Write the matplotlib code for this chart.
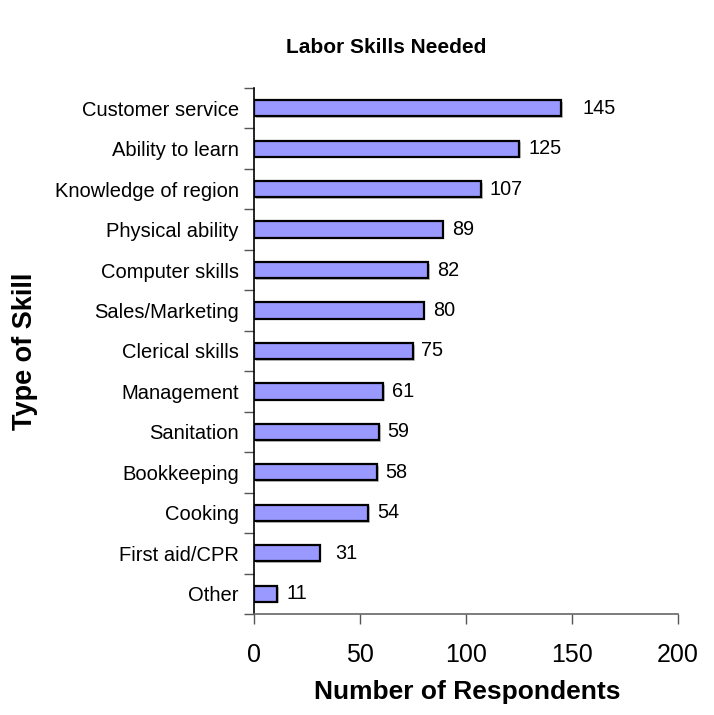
import numpy as np
import matplotlib.pyplot as plt
import matplotlib.patheffects as pe

plt.rcParams['font.family'] = ['Liberation Sans', 'DejaVu Sans']

skills = ['Customer service', 'Ability to learn', 'Knowledge of region',
          'Physical ability', 'Computer skills', 'Sales/Marketing',
          'Clerical skills', 'Management', 'Sanitation', 'Bookkeeping',
          'Cooking', 'First aid/CPR', 'Other']
respondents = [145, 125, 107, 89, 82, 80, 75, 61, 59, 58, 54, 31, 11]
x_ticks = [0, 50, 100, 150, 200]

# extra gap (points) between bar end and its label
label_pad = [15, 6.5, 6.5, 6.5, 6.5, 6.5, 6, 6, 6, 6, 6.5, 11.5, 6.5]

fig = plt.figure(figsize=(7.14, 7.15), dpi=100)
ax = fig.add_axes([0.3557, 0.1413, 0.5940, 0.7357])

n = len(skills)
pos = np.arange(n)[::-1]
bars = ax.barh(pos, respondents, height=0.4, color='#9999FF',
               edgecolor='black', linewidth=1.6, zorder=3)
for b in bars:
    b.set_path_effects([pe.SimplePatchShadow(offset=(1.2, -1.2), shadow_rgbFace='#999999', alpha=0.6),
                        pe.Normal()])

for p, v, pad in zip(pos, respondents, label_pad):
    ax.annotate(str(v), xy=(v, p), xytext=(pad, 0), textcoords='offset points',
                ha='left', va='center', fontsize=14.3)

ax.set_xlim(0, 200)
ax.set_ylim(-0.5, n - 0.5)
ax.set_xticks(x_ticks)
ax.set_xticklabels([str(t) for t in x_ticks], fontsize=18)

# category names sit between the boundary tick marks
ax.set_yticks(np.arange(n + 1) - 0.5)
ax.set_yticklabels([])
ax.set_yticks(pos, minor=True)
ax.set_yticklabels(skills, minor=True, fontsize=14.5)
ax.tick_params(axis='y', which='minor', length=0, pad=10.8)
ax.tick_params(axis='y', which='major', length=7, width=1, color='#555555')
ax.tick_params(axis='x', length=7, width=1, color='#555555', pad=14)

for s in ['top', 'right']:
    ax.spines[s].set_visible(False)
ax.spines['left'].set_linewidth(1.2)
ax.spines['left'].set_color('black')
ax.spines['bottom'].set_color('#666666')
ax.spines['bottom'].set_linewidth(1.2)

fig.text(0.541, 0.934, 'Labor Skills Needed', ha='center', va='center',
         fontsize=15, fontweight='bold')
fig.text(0.654, 0.032, 'Number of Respondents', ha='center', va='center',
         fontsize=19, fontweight='bold')
fig.text(0.035, 0.508, 'Type of Skill', ha='center', va='center',
         rotation=90, fontsize=19.5, fontweight='bold')

fig.savefig('out.png', dpi=100)
